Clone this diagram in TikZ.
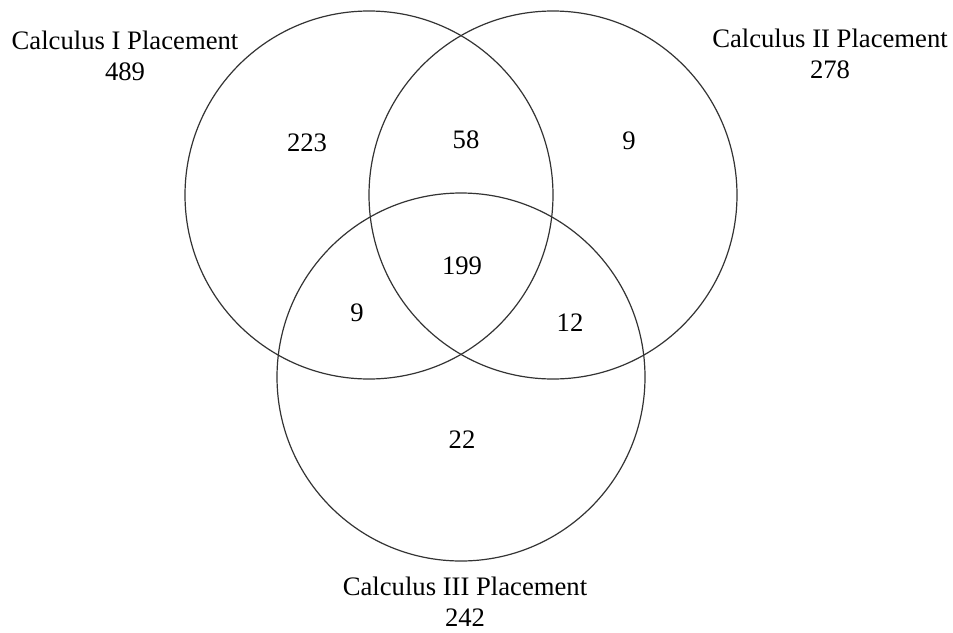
\documentclass[tikz,border=0pt]{standalone}
\usepackage{fontspec}
\setmainfont{Liberation Serif}
\usepackage{tikz}
\tikzset{
    set/.style={
        circle,
        draw=black!80,
        line width=0.9pt,
        minimum size=276pt,
        inner sep=0pt
    },
    count/.style={
        font=\fontsize{20}{24}\selectfont,
        inner sep=0pt
    },
    title/.style={
        font=\fontsize{20}{23}\selectfont,
        align=center,
        inner sep=0pt
    }
}

\begin{document}
\begin{tikzpicture}[
    x=0.75pt,
    y=-0.75pt
]
    \useasboundingbox (0,0) rectangle (953,632);

    % Conjuntos
    \node[set] (calcI)   at (369,195) {};
    \node[set] (calcII)  at (553,195) {};
    \node[set] (calcIII) at (461,377) {};

    % Nombres y totales
    \node[title] (tI)   at (125,56)  {Calculus I Placement\\489};
    \node[title] (tII)  at (830,54)  {Calculus II Placement\\278};
    \node[title] (tIII) at (465,602) {Calculus III Placement\\242};

    % Regiones
    \node[count] (onlyI)    at (307,143) {223};
    \node[count] (IandII)   at (466,140) {58};
    \node[count] (onlyII)   at (629,141) {9};
    \node[count] (all)      at (462,266) {199};
    \node[count] (IandIII)  at (357,313) {9};
    \node[count] (IIandIII) at (570,323) {12};
    \node[count] (onlyIII)  at (462,440) {22};

\end{tikzpicture}
\end{document}
